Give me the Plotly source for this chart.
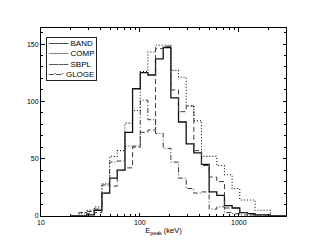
import plotly.graph_objects as go

# Bin edges in keV (log-spaced histogram bins)
bin_edges = [20.3, 24.2, 28.9, 34.6, 41.3, 49.4, 59.0, 70.6, 84.3, 100.8, 120.4,
             143.9, 172.0, 205.6, 245.7, 293.6, 350.9, 419.4, 501.2, 599.0, 716,
             855, 1022, 1222, 1460, 1745, 2085, 2492, 2980]

band = [0, 0, 1, 5, 20, 33, 40, 73, 111, 125, 123, 137, 147, 103, 82, 63, 55, 45,
        21, 18, 9, 7, 3, 2, 1, 1, 0, 0]
comp = [0, 2, 5, 8, 28, 52, 57, 81, 92, 126, 143, 149, 149, 127, 121, 96, 83, 52,
        52, 44, 36, 24, 14, 14, 5, 5, 0, 0]
sbpl = [0, 0, 2, 3, 20, 26, 40, 42, 60, 73, 75, 146, 148, 110, 91, 96, 57, 44,
        34, 30, 7, 7, 3, 1, 0, 0, 0, 0]
gloge = [0, 3, 4, 6, 27, 47, 48, 61, 61, 101, 84, 72, 59, 47, 33, 24, 20, 21,
         6, 8, 3, 2, 1, 0, 0, 0, 0, 0]

series_names = ["BAND", "COMP", "SBPL", "GLOGE"]
x_tick_vals = [10, 100, 1000]
x_tick_text = ["10", "100", "1000"]
y_tick_vals = [0, 50, 100, 150]

styles = {
    "BAND": dict(color="#111111", width=1.3, dash="solid"),
    "COMP": dict(color="#111111", width=1.1, dash="1px,2px"),
    "SBPL": dict(color="#3a3a3a", width=1.0, dash="5px,3px"),
    "GLOGE": dict(color="#3a3a3a", width=1.0, dash="5px,2px,1px,2px"),
}
legend_samples = {
    "BAND": "────",
    "COMP": "┈┈┈┈",
    "SBPL": "╌╌╌╌",
    "GLOGE": "─·─·",
}

fig = go.Figure()
for name, counts in zip(series_names, [band, comp, sbpl, gloge]):
    fig.add_trace(go.Scatter(
        x=bin_edges,
        y=counts + [counts[-1]],
        mode="lines",
        line_shape="hv",
        name=name,
        line=styles[name],
        showlegend=False,
    ))

font_family = "Liberation Sans, Arial, sans-serif"
minor_x = [v * m for v in (10, 100, 1000) for m in range(2, 10)]

legend_text = "<br>".join(
    f"<span style='font-family:DejaVu Sans'>{legend_samples[n]}</span> {n}" for n in series_names
)
fig.add_annotation(
    xref="paper", yref="paper", x=0.022, y=0.952,
    xanchor="left", yanchor="top", align="left",
    text=legend_text, showarrow=False,
    font=dict(family=font_family, size=8, color="black"),
    bordercolor="#222222", borderwidth=1, borderpad=1, bgcolor="white",
)

fig.update_layout(
    width=311, height=249,
    margin=dict(l=41, r=25, t=28, b=33),
    paper_bgcolor="white", plot_bgcolor="white",
    font=dict(family=font_family, size=7, color="black"),
    showlegend=False,
    hovermode=False,
    xaxis=dict(
        type="log", range=[1, 3.477],
        tickvals=x_tick_vals, ticktext=x_tick_text,
        ticks="inside", ticklen=3.5, tickwidth=1, tickcolor="black",
        minor=dict(ticks="inside", ticklen=2, tickvals=minor_x, tickcolor="black"),
        showline=True, linecolor="black", linewidth=1, mirror="allticks",
        showgrid=False, zeroline=False,
        title=dict(text="E<sub>peak</sub> (keV)", font=dict(size=7.5), standoff=2),
        tickfont=dict(size=7),
    ),
    yaxis=dict(
        range=[0, 164],
        tickvals=y_tick_vals,
        ticks="inside", ticklen=3.5, tickwidth=1, tickcolor="black",
        minor=dict(ticks="inside", ticklen=2, dtick=10, tickcolor="black"),
        showline=True, linecolor="black", linewidth=1, mirror="allticks",
        showgrid=False, zeroline=False,
        tickfont=dict(size=7),
    ),
)

fig.write_html(
    "out.html",
    config={"displayModeBar": False, "staticPlot": True},
    post_script="document.body.style.margin='0px';",
)
